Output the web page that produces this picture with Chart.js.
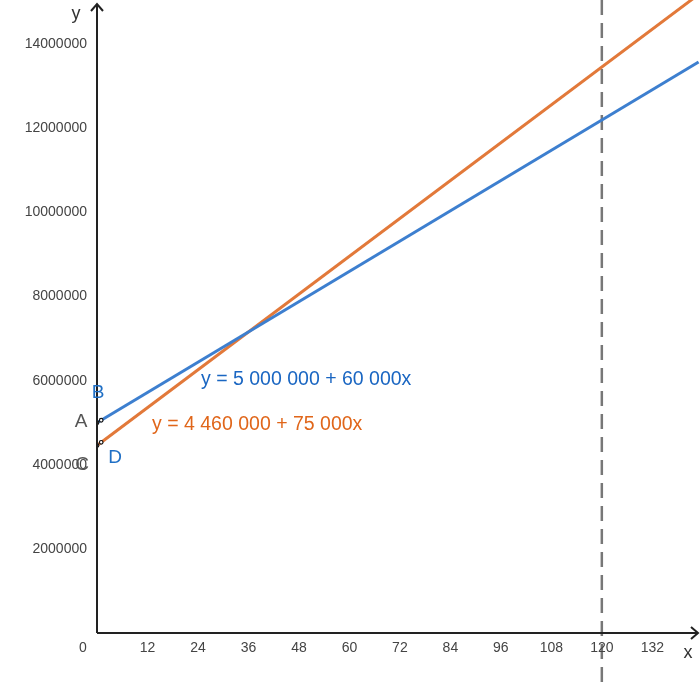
<!DOCTYPE html>
<html>
<head>
<meta charset="utf-8">
<script src="https://cdn.jsdelivr.net/npm/chart.js@4"></script>
<style>
  html, body { margin: 0; padding: 0; background: #fff; }
  #wrap { width: 700px; height: 687px; }
</style>
</head>
<body>
<div id="wrap"><canvas id="chart"></canvas></div>
<script>
// data
var xTicks = [12, 24, 36, 48, 60, 72, 84, 96, 108, 120, 132];
var yTicks = [2000000, 4000000, 6000000, 8000000, 10000000, 12000000, 14000000];
var blueLine = [[0, 5000000], [143, 13580000]];     // y = 5 000 000 + 60 000x
var orangeLine = [[0, 4460000], [143, 15185000]];   // y = 4 460 000 + 75 000x
var bluePoints = [[0, 5000000], [1, 5060000]];
var orangePoints = [[0, 4460000], [1, 4535000]];
var guideX = 120;
var blueLabel = "y = 5 000 000 + 60 000x";
var orangeLabel = "y = 4 460 000 + 75 000x";

var FONT = "'Liberation Sans', Arial, sans-serif";

function toXY(arr) {
    return arr.map(function (p) { return { x: p[0], y: p[1] }; });
}

// axes with arrows, tick labels, dashed guide, text labels
var decorations = {
    id: 'decorations',
    beforeDatasetsDraw: function (chart) {
        var ctx = chart.ctx;
        var xs = chart.scales.x;
        var gx = xs.getPixelForValue(guideX);
        ctx.save();
        ctx.strokeStyle = '#777';
        ctx.lineWidth = 2.5;
        ctx.setLineDash([15, 8]);
        ctx.beginPath();
        ctx.moveTo(gx, 0);
        ctx.lineTo(gx, chart.height);
        ctx.stroke();
        ctx.restore();
    },
    afterDatasetsDraw: function (chart) {
        var ctx = chart.ctx;
        var xs = chart.scales.x, ys = chart.scales.y;
        var ox = xs.getPixelForValue(0), oy = ys.getPixelForValue(0);
        var right = chart.width - 2, top = 4;
        ctx.save();
        ctx.strokeStyle = '#222';
        ctx.lineWidth = 2;
        ctx.beginPath();
        ctx.moveTo(ox, oy);
        ctx.lineTo(ox, top);
        ctx.moveTo(ox, oy);
        ctx.lineTo(right, oy);
        ctx.stroke();
        // arrow heads
        ctx.beginPath();
        ctx.moveTo(ox - 6, top + 7);
        ctx.lineTo(ox, top);
        ctx.lineTo(ox + 6, top + 7);
        ctx.moveTo(right - 7, oy - 6);
        ctx.lineTo(right, oy);
        ctx.lineTo(right - 7, oy + 6);
        ctx.stroke();

        // tick labels
        ctx.fillStyle = '#444';
        ctx.font = '14px ' + FONT;
        ctx.textBaseline = 'middle';
        ctx.textAlign = 'center';
        xTicks.forEach(function (v) {
            ctx.fillText(String(v), xs.getPixelForValue(v), oy + 15);
        });
        ctx.fillText('0', 83, oy + 15);
        ctx.textAlign = 'right';
        yTicks.forEach(function (v) {
            ctx.fillText(String(v), ox - 10, ys.getPixelForValue(v));
        });

        // axis names
        ctx.fillStyle = '#333';
        ctx.font = '18px ' + FONT;
        ctx.textAlign = 'center';
        ctx.fillText('y', 76, 14);
        ctx.fillText('x', 688, 653);

        // point names
        ctx.font = '19px ' + FONT;
        ctx.fillStyle = '#555';
        ctx.fillText('A', 81, 422);
        ctx.fillText('C', 82, 465);
        ctx.fillStyle = '#1f6fc5';
        ctx.fillText('B', 98, 393);
        ctx.fillText('D', 115, 458);

        // equation labels
        ctx.textAlign = 'left';
        ctx.font = '19.5px ' + FONT;
        ctx.fillStyle = '#1a66c2';
        ctx.fillText(blueLabel, 201, 380);
        ctx.fillStyle = '#e0661a';
        ctx.fillText(orangeLabel, 152, 425);
        ctx.restore();
    }
};

var chart = new Chart(document.getElementById('chart'), {
    type: 'scatter',
    data: {
        datasets: [{
            label: 'blue',
            data: toXY(blueLine),
            showLine: true,
            borderColor: '#3d7fcf',
            borderWidth: 3,
            pointRadius: 0,
            clip: false,
            order: 2
        },
        {
            label: 'orange',
            data: toXY(orangeLine),
            showLine: true,
            borderColor: '#e2793a',
            borderWidth: 3,
            pointRadius: 0,
            clip: false,
            order: 2
        },
        {
            label: 'points',
            data: toXY(bluePoints.concat(orangePoints)),
            showLine: false,
            pointRadius: 1.8,
            pointBorderWidth: 1.2,
            pointBorderColor: '#111',
            pointBackgroundColor: '#fff',
            order: 1
        }]
    },
    options: {
        responsive: true,
        maintainAspectRatio: false,
        animation: false,
        layout: { padding: { top: 5, right: 2, left: 0, bottom: 0 } },
        plugins: {
            legend: { display: false },
            tooltip: { enabled: false }
        },
        scales: {
            x: {
                type: 'linear',
                min: 0,
                max: 142.1,
                afterFit: function (s) { s.height = 54; },
                grid: { display: false },
                border: { display: false },
                ticks: { display: false }
            },
            y: {
                type: 'linear',
                min: 0,
                max: 14930000,
                afterFit: function (s) { s.width = 97; },
                grid: { display: false },
                border: { display: false },
                ticks: { display: false }
            }
        }
    },
    plugins: [decorations]
});
</script>
</body>
</html>
